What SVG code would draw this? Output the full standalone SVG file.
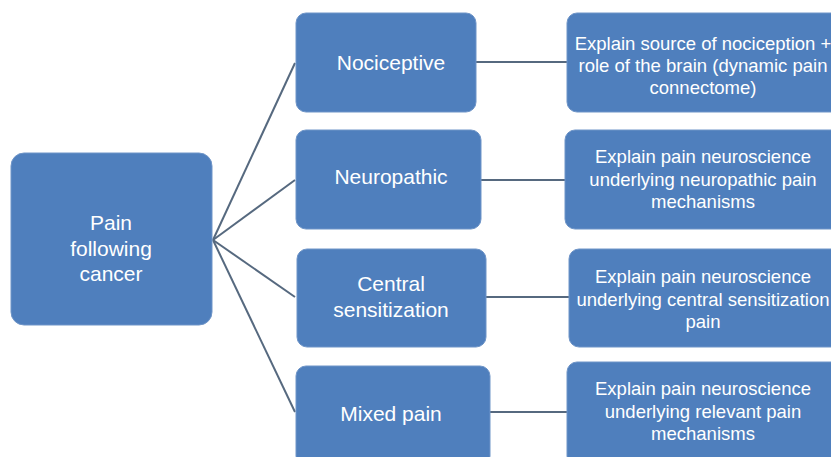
<svg xmlns="http://www.w3.org/2000/svg" width="831" height="457" viewBox="0 0 831 457">
<style>
.box{fill:#4f7fbd;stroke:#6f95c8;stroke-width:1}
.t{font-family:"Liberation Sans",Arial,sans-serif;fill:#ffffff;text-anchor:middle}
.big{font-size:21px}
.sm{font-size:18.5px}
.c{stroke:#56697f;stroke-width:2;fill:none}
</style>
<rect width="831" height="457" fill="#ffffff"/>
<g id="connectors">
<line class="c" x1="213" y1="240" x2="295" y2="63"/>
<line class="c" x1="213" y1="240" x2="295" y2="180"/>
<line class="c" x1="213" y1="240" x2="295" y2="297"/>
<line class="c" x1="213" y1="240" x2="295" y2="412"/>
<line class="c" x1="476" y1="62" x2="567" y2="62"/>
<line class="c" x1="481" y1="180" x2="565" y2="180"/>
<line class="c" x1="486" y1="297" x2="569" y2="297"/>
<line class="c" x1="490" y1="412" x2="567" y2="412"/>
</g>
<g id="pain-following-cancer">
<rect class="box" x="11" y="153" width="201" height="172" rx="13"/>
<text class="t big" x="111" y="230">Pain</text>
<text class="t big" x="111" y="256">following</text>
<text class="t big" x="111" y="281">cancer</text>
</g>
<g id="nociceptive">
<rect class="box" x="296" y="13" width="180" height="99" rx="10"/>
<text class="t big" x="391" y="70">Nociceptive</text>
</g>
<g id="neuropathic">
<rect class="box" x="296" y="130" width="185" height="99" rx="10"/>
<text class="t big" x="391" y="184">Neuropathic</text>
</g>
<g id="central-sensitization">
<rect class="box" x="297" y="249" width="189" height="98" rx="10"/>
<text class="t big" x="391" y="291">Central</text>
<text class="t big" x="391" y="317">sensitization</text>
</g>
<g id="mixed-pain">
<rect class="box" x="296" y="366" width="194" height="100" rx="10"/>
<text class="t big" x="391" y="421">Mixed pain</text>
</g>
<g id="explain-nociception">
<rect class="box" x="567" y="13" width="275" height="99" rx="10"/>
<text class="t sm" x="703" y="49.5">Explain source of nociception +</text>
<text class="t sm" x="703" y="72">role of the brain (dynamic pain</text>
<text class="t sm" x="703" y="94">connectome)</text>
</g>
<g id="explain-neuropathic">
<rect class="box" x="565" y="130" width="277" height="99" rx="10"/>
<text class="t sm" x="703" y="163">Explain pain neuroscience</text>
<text class="t sm" x="703" y="186">underlying neuropathic pain</text>
<text class="t sm" x="703" y="208">mechanisms</text>
</g>
<g id="explain-central">
<rect class="box" x="569" y="249" width="273" height="98" rx="10"/>
<text class="t sm" x="703" y="283">Explain pain neuroscience</text>
<text class="t sm" x="703" y="306">underlying central sensitization</text>
<text class="t sm" x="703" y="328">pain</text>
</g>
<g id="explain-mixed">
<rect class="box" x="567" y="362" width="275" height="104" rx="10"/>
<text class="t sm" x="703" y="395">Explain pain neuroscience</text>
<text class="t sm" x="703" y="418">underlying relevant pain</text>
<text class="t sm" x="703" y="440">mechanisms</text>
</g>
</svg>
